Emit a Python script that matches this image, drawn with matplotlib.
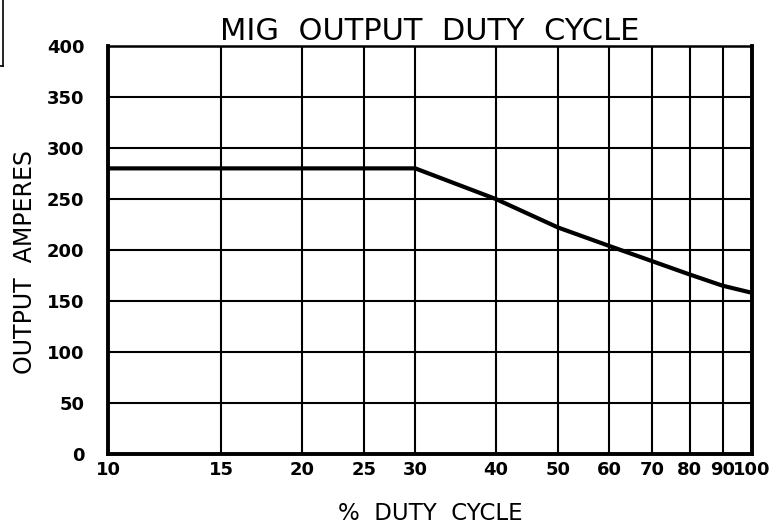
import matplotlib
matplotlib.use("Agg")
import matplotlib.pyplot as plt
from matplotlib.lines import Line2D

# data
duty_cycle = [10, 30, 40, 50, 60, 70, 80, 90, 100]
amperes = [280, 280, 250, 222, 204, 189, 176, 165, 158]

x_ticks = [10, 15, 20, 25, 30, 40, 50, 60, 70, 80, 90, 100]
y_ticks = [0, 50, 100, 150, 200, 250, 300, 350, 400]

fig = plt.figure(figsize=(7.78, 5.26), dpi=100)
ax = fig.add_axes([0.1388, 0.1369, 0.8278, 0.7757])

ax.plot(duty_cycle, amperes, color="black", lw=3, solid_joinstyle="miter")

ax.set_xscale("log")
ax.set_xlim(10, 100)
ax.set_ylim(0, 400)
ax.set_xticks(x_ticks)
ax.set_xticklabels([str(v) for v in x_ticks])
ax.minorticks_off()
ax.set_yticks(y_ticks)
ax.grid(True, color="black", lw=1.5)
ax.tick_params(length=0, labelsize=13)
ax.tick_params(axis="x", pad=5)
ax.tick_params(axis="y", pad=17)
for lab in ax.get_xticklabels() + ax.get_yticklabels():
    lab.set_fontweight("bold")

for side in ["left", "bottom", "right"]:
    ax.spines[side].set_linewidth(2.8)
ax.spines["top"].set_linewidth(1.8)

ax.set_title("MIG  OUTPUT  DUTY  CYCLE", fontsize=22, pad=3)
ax.set_xlabel("%  DUTY  CYCLE", fontsize=16.5)
ax.set_ylabel("OUTPUT  AMPERES", fontsize=17)
ax.xaxis.set_label_coords(0.501, -0.117)
ax.yaxis.set_label_coords(-0.11, 0.47)

# stray frame fragment in the top-left corner
fig.add_artist(Line2D([3 / 778, 3 / 778], [1, 1 - 66 / 526], color="black", lw=1.2))
fig.add_artist(Line2D([0, 3 / 778], [1 - 66 / 526, 1 - 66 / 526], color="black", lw=1.2))

plt.savefig("out.png", dpi=100)
